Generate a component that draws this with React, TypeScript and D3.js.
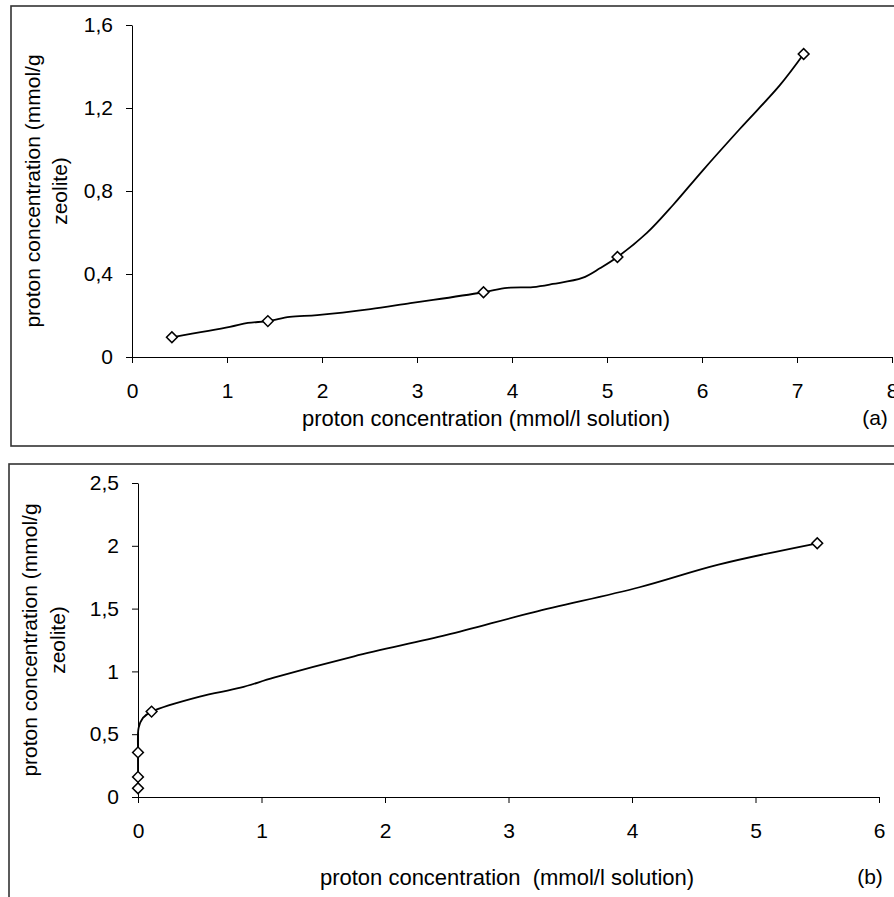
import React, { useEffect, useRef } from 'react';
import * as d3 from 'd3';

const width = 894;
const height = 897;
const font = '"Liberation Sans", Arial, sans-serif';
const fontSize = 21;

// panel (a): measured markers and the traced line through them
const markersA: [number, number][] = [
  [0.42, 0.095], [1.43, 0.173], [3.7, 0.312], [5.11, 0.482], [7.07, 1.46],
];
const lineA: [number, number][] = [
  [0.42, 0.095], [1.03, 0.145], [1.22, 0.164], [1.43, 0.173], [1.66, 0.193],
  [1.95, 0.202], [2.51, 0.231], [2.93, 0.26], [3.17, 0.275], [3.7, 0.312],
  [3.95, 0.333], [4.22, 0.337], [4.43, 0.352], [4.74, 0.381], [4.93, 0.429],
  [5.11, 0.482], [5.42, 0.598], [5.7, 0.735], [6.0, 0.895], [6.4, 1.1],
  [6.82, 1.31], [7.07, 1.46],
];
const xTicksA = [0, 1, 2, 3, 4, 5, 6, 7, 8];
const yTicksA = [0, 0.4, 0.8, 1.2, 1.6];

// panel (b)
const markersB: [number, number][] = [
  [0, 0.07], [0, 0.16], [0, 0.355], [0.11, 0.68], [5.5, 2.02],
];
const lineB: [number, number][] = [
  [0, 0.07], [0, 0.16], [0, 0.355], [0.005, 0.55], [0.04, 0.63], [0.11, 0.68],
  [0.5, 0.8], [0.83, 0.87], [1.1, 0.95], [1.75, 1.12], [2.5, 1.29],
  [3.2, 1.47], [4.06, 1.67], [4.7, 1.85], [5.5, 2.02],
];
const xTicksB = [0, 1, 2, 3, 4, 5, 6];
const yTicksB = [0, 0.5, 1, 1.5, 2, 2.5];

const fmt = (d: number) => String(+d.toFixed(2)).replace('.', ',');

type PanelProps = {
  box: { x: number; y: number; h: number };
  xDomain: [number, number];
  xRange: [number, number];
  yDomain: [number, number];
  yRange: [number, number];
  xTicks: number[];
  yTicks: number[];
  line: [number, number][];
  markers: [number, number][];
  xTitle: string;
  xTitleX: number;
  xTitleY: number;
  tag: string;
  tagX: number;
  yTitleX: [number, number];
};

function Panel(p: PanelProps) {
  const xRef = useRef<SVGGElement>(null);
  const yRef = useRef<SVGGElement>(null);
  const x = d3.scaleLinear().domain(p.xDomain).range(p.xRange);
  const y = d3.scaleLinear().domain(p.yDomain).range(p.yRange);

  useEffect(() => {
    const xAxis = d3.axisBottom(x).tickValues(p.xTicks).tickFormat((d) => fmt(+d))
      .tickSize(6).tickSizeOuter(0).tickPadding(20);
    const yAxis = d3.axisLeft(y).tickValues(p.yTicks).tickFormat((d) => fmt(+d))
      .tickSize(6).tickSizeOuter(0).tickPadding(13);
    for (const [ref, axis] of [[xRef, xAxis], [yRef, yAxis]] as const) {
      const g = d3.select(ref.current!);
      g.call(axis as any);
      g.selectAll('text').attr('font-size', fontSize).attr('font-family', font).attr('fill', '#000');
      g.selectAll('line,path').attr('stroke', '#000');
    }
  });

  const lineGen = d3.line<[number, number]>()
    .x((d) => x(d[0]))
    .y((d) => y(d[1]))
    .curve(d3.curveCatmullRom.alpha(0.5));
  const diamond = d3.symbol().type(d3.symbolSquare).size(58)();
  const yMid = (p.yRange[0] + p.yRange[1]) / 2;

  return (
    <g>
      <rect x={p.box.x} y={p.box.y} width={width} height={p.box.h} fill="none" stroke="#333" strokeWidth={1.6} />
      <g ref={xRef} transform={`translate(0,${p.yRange[0]})`} />
      <g ref={yRef} transform={`translate(${p.xRange[0]},0)`} />
      <path d={lineGen(p.line) ?? ''} fill="none" stroke="#000" strokeWidth={1.8} />
      {p.markers.map((d, i) => (
        <path key={i} d={diamond ?? ''} transform={`translate(${x(d[0])},${y(d[1])}) rotate(45)`}
          fill="#fff" stroke="#000" strokeWidth={1.5} />
      ))}
      <g fontFamily={font} fontSize={fontSize} fill="#000">
        <text x={p.xTitleX} y={p.xTitleY} textAnchor="middle" dy="0.35em" fontSize={22}
          style={{ whiteSpace: 'pre' }}>{p.xTitle}</text>
        <text x={p.tagX} y={p.xTitleY} textAnchor="middle" dy="0.35em">{p.tag}</text>
        <text transform={`translate(${p.yTitleX[0]},${yMid}) rotate(-90)`} textAnchor="middle" dy="0.35em">
          proton concentration (mmol/g
        </text>
        <text transform={`translate(${p.yTitleX[1]},${yMid}) rotate(-90)`} textAnchor="middle" dy="0.35em">
          zeolite)
        </text>
      </g>
    </g>
  );
}

export default function App() {
  return (
    <svg width={width} height={height} style={{ position: 'absolute', left: 0, top: 0, background: '#fff' }}>
      <Panel
        box={{ x: 11, y: 6, h: 440 }}
        xDomain={[0, 8]} xRange={[132, 892]}
        yDomain={[0, 1.6]} yRange={[357, 25]}
        xTicks={xTicksA} yTicks={yTicksA}
        line={lineA} markers={markersA}
        xTitle="proton concentration (mmol/l solution)" xTitleX={486} xTitleY={418}
        tag="(a)" tagX={875} yTitleX={[33, 60]}
      />
      <Panel
        box={{ x: 9, y: 464, h: 460 }}
        xDomain={[0, 6]} xRange={[138, 879]}
        yDomain={[0, 2.5]} yRange={[797, 483]}
        xTicks={xTicksB} yTicks={yTicksB}
        line={lineB} markers={markersB}
        xTitle="proton concentration  (mmol/l solution)" xTitleX={507} xTitleY={877}
        tag="(b)" tagX={870} yTitleX={[30, 58]}
      />
    </svg>
  );
}
